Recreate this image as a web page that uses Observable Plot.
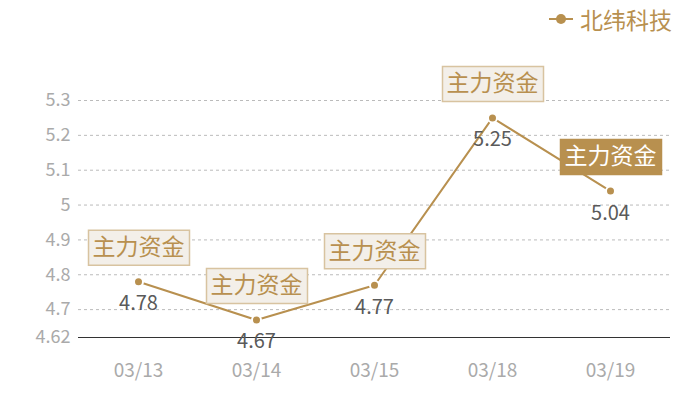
<!DOCTYPE html>
<html>
<head>
<meta charset="utf-8">
<script src="https://cdn.jsdelivr.net/npm/d3@7"></script>
<script src="https://cdn.jsdelivr.net/npm/@observablehq/plot@0.6"></script>
<style>
  body { margin: 0; background: #fff; }
  #wrap { position: relative; width: 700px; height: 400px; font-family: "Noto Sans CJK SC", "Noto Sans", sans-serif; }
  #legend { position: absolute; left: 548px; top: 2px; display: flex; align-items: center; color: #b8904f; font-size: 23px; }
  #legend svg { margin-right: 6px; }
</style>
</head>
<body>
<div id="wrap">
  <div id="legend"><svg width="26" height="14"><line x1="1" y1="7" x2="25" y2="7" stroke="#b8904f" stroke-width="2"/><circle cx="13" cy="7" r="5" fill="#b8904f"/></svg><span id="series"></span></div>
</div>
<script>
const dates = ["03/13", "03/14", "03/15", "03/18", "03/19"];
const values = [4.78, 4.67, 4.77, 5.25, 5.04];
const yTicks = [4.62, 4.7, 4.8, 4.9, 5, 5.1, 5.2, 5.3];
const tagText = "主力资金";
const highlighted = ["03/19"];
const seriesName = "北纬科技";

document.getElementById("series").textContent = seriesName;
const data = dates.map((d, i) => ({date: d, value: values[i], hi: highlighted.includes(d)}));
const gold = "#b8904f";
const rectSymbol = { draw(ctx) { ctx.rect(-50, -17.5, 101, 35); } };

const chart = Plot.plot({
  width: 700,
  height: 400,
  marginTop: 100,
  marginBottom: 63,
  marginLeft: 78,
  marginRight: 30,
  style: { fontFamily: "'Noto Sans CJK SC', 'Noto Sans', sans-serif", background: "transparent" },
  x: { type: "point", domain: dates, padding: 0.5 },
  y: { domain: [4.62, 5.3] },
  marks: [
    Plot.gridY(yTicks.slice(1), { stroke: "#bbb", strokeOpacity: 1, strokeDasharray: "3,3" }),
    Plot.ruleY([4.62], { stroke: "#333", strokeWidth: 1 }),
    Plot.axisY(yTicks, { tickSize: 0, tickPadding: 8, fill: "#aaa", fontSize: 18, label: null, tickFormat: d => String(d) }),
    Plot.axisX({ tickSize: 0, tickPadding: 26, fill: "#aaa", fontSize: 19, label: null }),
    Plot.line(data, { x: "date", y: "value", stroke: gold, strokeWidth: 2 }),
    Plot.dot(data, { x: "date", y: "value", symbol: rectSymbol, r: 10, dy: -34,
      fill: d => d.hi ? gold : "#f3efe9", stroke: d => d.hi ? gold : "#d8c3a0", strokeWidth: 1.5 }),
    Plot.text(data, { x: "date", y: "value", text: () => tagText, dy: -34, fontSize: 23,
      fill: d => d.hi ? "#fff" : gold }),
    Plot.dot(data, { x: "date", y: "value", r: 4.5, fill: gold, stroke: "#fff", strokeWidth: 2 }),
    Plot.text(data, { x: "date", y: "value", text: d => String(d.value), dy: 22, fontSize: 20, fill: "#5a5a5a" })
  ]
});
document.getElementById("wrap").prepend(chart);
</script>
</body>
</html>
